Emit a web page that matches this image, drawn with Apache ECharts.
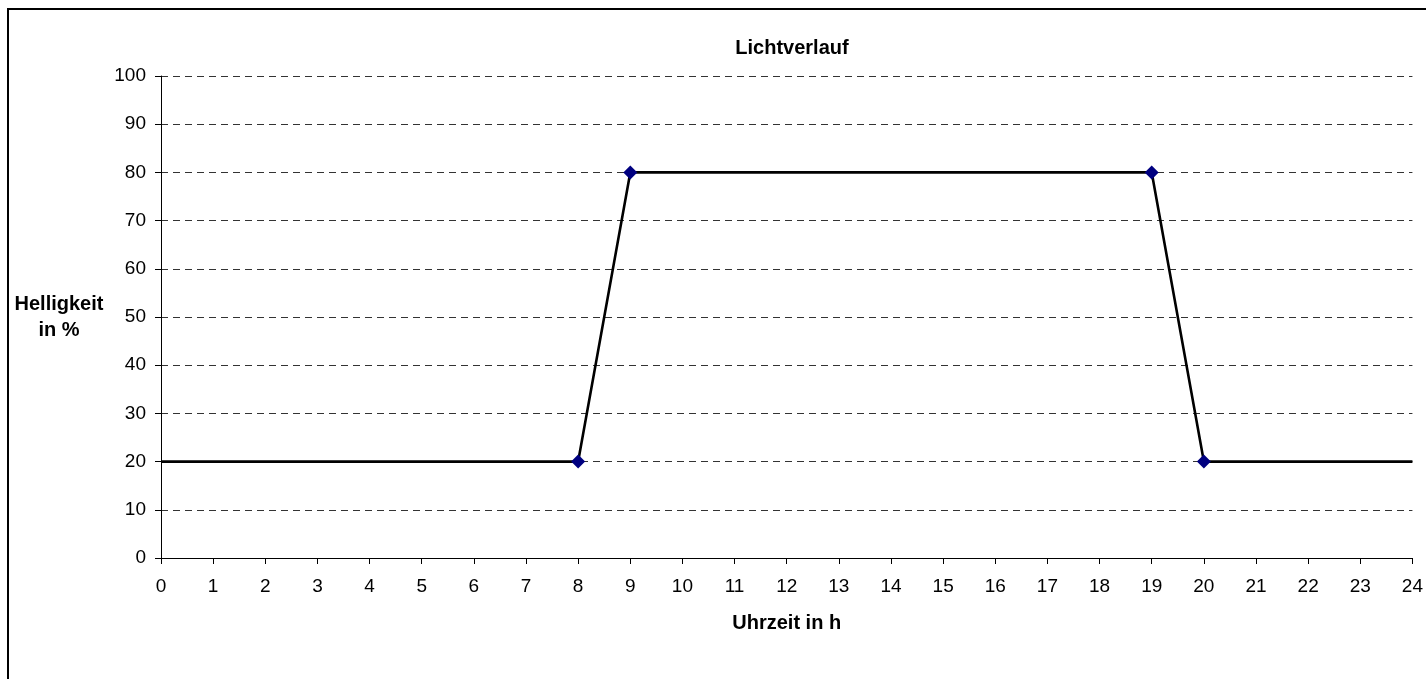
<!DOCTYPE html>
<html>
<head>
<meta charset="utf-8">
<script src="https://cdn.jsdelivr.net/npm/echarts@6/dist/echarts.min.js"></script>
<style>
html,body{margin:0;padding:0;background:#fff;overflow:hidden;}
#chart{position:absolute;left:0;top:0;width:1426px;height:679px;}
#frame{position:absolute;left:7px;top:8px;width:1440px;height:700px;border:2px solid #000;box-sizing:border-box;pointer-events:none;}
</style>
</head>
<body>
<div id="chart"></div>
<div id="frame"></div>
<script>
const chartTitle = 'Lichtverlauf';
const xAxisTitle = 'Uhrzeit in h';
const yAxisTitle = 'Helligkeit\nin %';
const hours = [0, 8, 9, 19, 20, 24];
const brightness = [20, 20, 80, 80, 20, 20];
const markerShown = [false, true, true, true, true, false];

const FONT = '"Liberation Sans", Arial, sans-serif';
const seriesData = hours.map((h, i) => ({
  value: [h, brightness[i]],
  symbol: markerShown[i] ? 'diamond' : 'none'
}));

const chart = echarts.init(document.getElementById('chart'), null, {renderer: 'canvas'});
chart.setOption({
  animation: false,
  backgroundColor: '#fff',
  title: {
    text: chartTitle,
    left: 787, top: 33,
    textAlign: 'center',
    textStyle: {fontFamily: FONT, fontSize: 20, fontWeight: 'bold', color: '#000'}
  },
  grid: {left: 161, top: 76, right: 12, bottom: 121, containLabel: false},
  xAxis: {
    type: 'value', min: 0, max: 24, interval: 1,
    name: xAxisTitle, nameLocation: 'middle', nameGap: 55,
    nameTextStyle: {fontFamily: FONT, fontSize: 20, fontWeight: 'bold', color: '#000'},
    axisLine: {show: true, onZero: false, lineStyle: {color: '#000', width: 1}},
    axisTick: {show: true, length: 6, lineStyle: {color: '#000'}},
    axisLabel: {fontFamily: FONT, fontSize: 19, color: '#000', margin: 19},
    splitLine: {show: false}
  },
  yAxis: {
    type: 'value', min: 0, max: 100, interval: 10,
    name: yAxisTitle, nameLocation: 'middle', nameRotate: 0, nameGap: 102,
    nameTextStyle: {fontFamily: FONT, fontSize: 20, fontWeight: 'bold', color: '#000', align: 'center', lineHeight: 26, padding: [8, 0, 0, 0]},
    axisLine: {show: true, lineStyle: {color: '#000', width: 1}},
    axisTick: {show: true, length: 6, lineStyle: {color: '#000'}},
    axisLabel: {fontFamily: FONT, fontSize: 19, color: '#000', margin: 15},
    splitLine: {show: true, lineStyle: {color: '#333', width: 1, type: [7, 5]}}
  },
  series: [{
    type: 'line',
    data: seriesData,
    showAllSymbol: true,
    symbolSize: 14,
    lineStyle: {color: '#000', width: 2.6},
    itemStyle: {color: '#000080', borderWidth: 0},
    z: 3
  }]
});
</script>
</body>
</html>
